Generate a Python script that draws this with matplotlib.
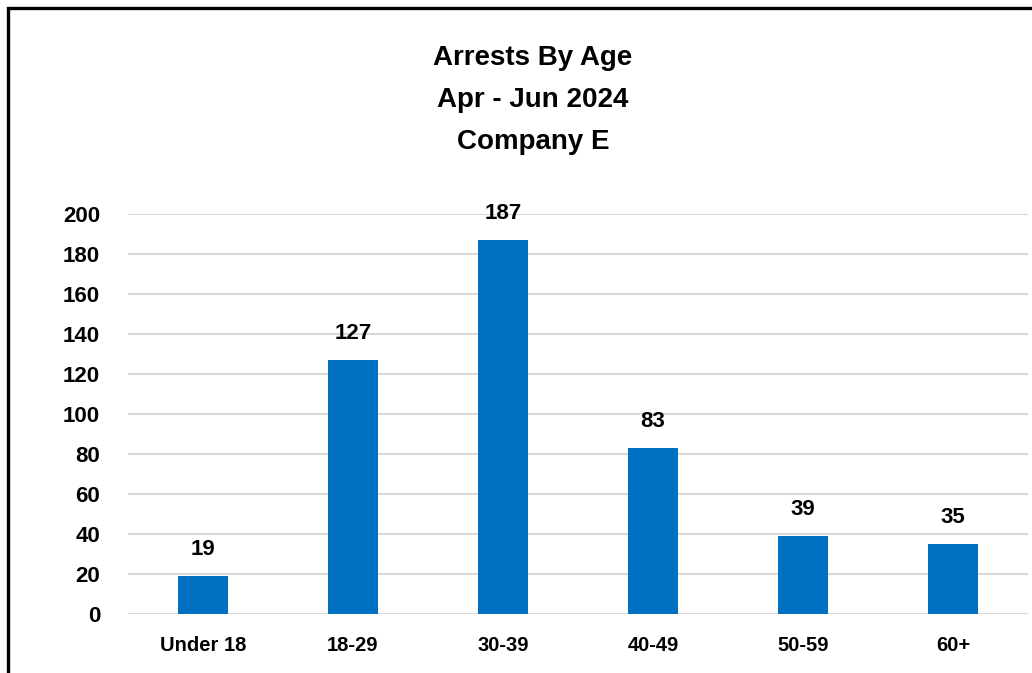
import matplotlib.pyplot as plt
from matplotlib.patches import Rectangle

categories = ["Under 18", "18-29", "30-39", "40-49", "50-59", "60+"]
arrests = [19, 127, 187, 83, 39, 35]
yticks = [0, 20, 40, 60, 80, 100, 120, 140, 160, 180, 200]

W, H = 1032, 673
fig = plt.figure(figsize=(W / 100, H / 100), dpi=100)
plt.rcParams['font.family'] = ['Liberation Sans', 'DejaVu Sans']

# outer chart frame (cropped at right/bottom)
fig.patches.append(Rectangle((8 / W, -0.2), 1.5, 1.2 - 8 / H,
                             transform=fig.transFigure, fill=False,
                             edgecolor="black", linewidth=2.4))

ax = fig.add_axes([128 / W, 59 / H, 900 / W, 400 / H])
x = list(range(len(categories)))
ax.bar(x, arrests, width=0.33, color="#0070C0", zorder=3)

for xi, v in zip(x, arrests):
    ax.text(xi, v + 8, str(v), ha="center", va="bottom",
            fontsize=16, fontweight="bold")

ax.set_xlim(-0.5, len(categories) - 0.5)
ax.set_ylim(0, 200)
ax.set_yticks(yticks)
ax.set_yticklabels([str(t) for t in yticks], fontsize=16, fontweight="bold")
ax.set_xticks(x)
ax.set_xticklabels(categories, fontsize=14.5, fontweight="bold")
ax.tick_params(axis="both", length=0)
ax.tick_params(axis="y", pad=20)
ax.tick_params(axis="x", pad=16)
ax.grid(axis="y", color="#d9d9d9", linewidth=1.5, zorder=0)
for s in ax.spines.values():
    s.set_visible(False)

title = ["Arrests By Age", "Apr - Jun 2024", "Company E"]
for i, line in enumerate(title):
    fig.text(533 / W, 1 - (58 + 42 * i) / H, line, ha="center", va="center",
             fontsize=20, fontweight="bold")

fig.savefig("out.png", dpi=100)
